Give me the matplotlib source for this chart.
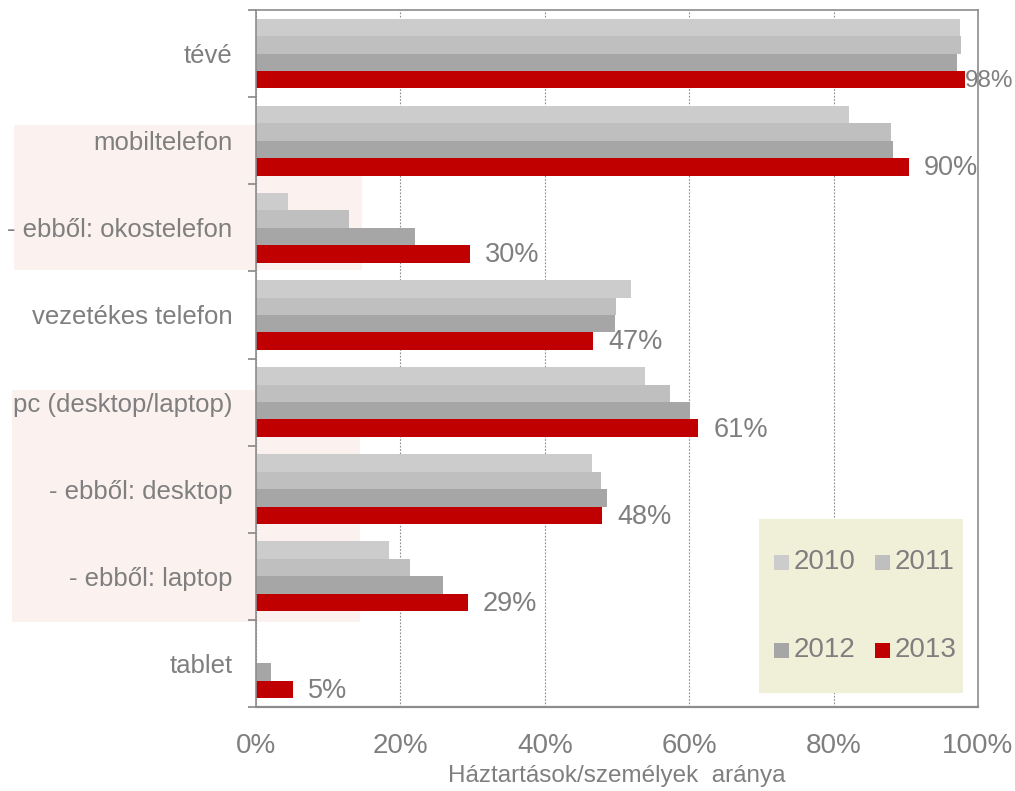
import matplotlib.pyplot as plt
from matplotlib.patches import Rectangle
import numpy as np

categories = ["tévé", "mobiltelefon", "- ebből: okostelefon", "vezetékes telefon",
              "pc (desktop/laptop)", "- ebből: desktop", "- ebből: laptop", "tablet"]
years = ["2010", "2011", "2012", "2013"]
v2010 = [97.5, 82.1, 4.4, 51.9, 53.9, 46.5, 18.4, 0.0]
v2011 = [97.6, 88.0, 12.9, 49.8, 57.3, 47.8, 21.3, 0.0]
v2012 = [97.1, 88.2, 22.0, 49.7, 60.1, 48.6, 25.9, 2.1]
v2013 = [98.2, 90.4, 29.6, 46.7, 61.2, 47.9, 29.3, 5.1]
xlabel = "Háztartások/személyek  aránya"

colors = ["#cccccc", "#bfbfbf", "#a6a6a6", "#c00000"]
grey = "#7f7f7f"
W, H = 1015, 791

plt.rcParams["font.family"] = ["Liberation Sans", "DejaVu Sans"]

fig = plt.figure(figsize=(W / 100, H / 100), dpi=100)


def fig_rect(x0, y0, x1, y1, color, z):
    # rectangle given in picture pixels (top-left origin)
    r = Rectangle((x0 / W, 1 - y1 / H), (x1 - x0) / W, (y1 - y0) / H,
                  transform=fig.transFigure, facecolor=color, edgecolor="none", zorder=z)
    fig.patches.append(r)


# light pink bands behind the "ebből" groups
fig_rect(14, 125, 362, 270, "#fbf1ef", -1)
fig_rect(12, 390, 360, 622, "#fbf1ef", -1)

ax = fig.add_axes([256 / W, (H - 707) / H, 722 / W, 697 / H])
ax.set_facecolor("none")

y = np.arange(len(categories))
series = [v2010, v2011, v2012, v2013]
for i, (vals, col) in enumerate(zip(series, colors)):
    ax.barh(y - 0.3 + 0.2 * i, vals, height=0.2, color=col, label=years[i], zorder=2)

# value labels for 2013 (the one at the right edge is squeezed to fit)
for yi, v in zip(y, v2013):
    off, fs = (0, 17.5) if v > 95 else (11, 19.5)
    ax.annotate(f"{v:.0f}%", (v, yi + 0.3), xytext=(off, -1), textcoords="offset points",
                va="center", ha="left", fontsize=fs, color=grey, annotation_clip=False)

ax.set_xlim(0, 100)
ax.set_ylim(len(categories) - 0.5, -0.5)
ax.set_xticks([0, 20, 40, 60, 80, 100])
ax.set_xticklabels([f"{t}%" for t in [0, 20, 40, 60, 80, 100]])
ax.tick_params(axis="x", length=0, pad=19, labelsize=20, labelcolor=grey)
ax.set_yticks(y)
ax.set_yticklabels(categories)
ax.set_yticks(np.arange(len(categories) + 1) - 0.5, minor=True)
ax.tick_params(axis="y", which="major", length=0, pad=17, labelsize=18.5, labelcolor=grey)
ax.tick_params(axis="y", which="minor", length=6, width=1.2, color="#868686")
ax.xaxis.grid(True, color="#8c8c8c", linestyle=(0, (1.5, 1.5)), linewidth=0.8, zorder=0)
ax.set_axisbelow(True)
for s in ax.spines.values():
    s.set_color("#8c8c8c")
    s.set_linewidth(1.2)
ax.spines["bottom"].set_linewidth(1.6)

ax.set_xlabel(xlabel, fontsize=17.5, color=grey, labelpad=4)

# legend box: 2010 2011 / 2012 2013
fig_rect(759, 519, 963, 693, "#f0efd8", 3)
for i, (yr, col) in enumerate(zip(years, colors)):
    cx = 774 if i % 2 == 0 else 875
    cy = 562 if i < 2 else 650
    fig_rect(cx, cy - 7, cx + 15, cy + 8, col, 4)
    fig.text((cx + 20) / W, 1 - cy / H, yr, fontsize=20, color=grey,
             va="center", ha="left", zorder=5)

fig.savefig("out.png", dpi=100)
